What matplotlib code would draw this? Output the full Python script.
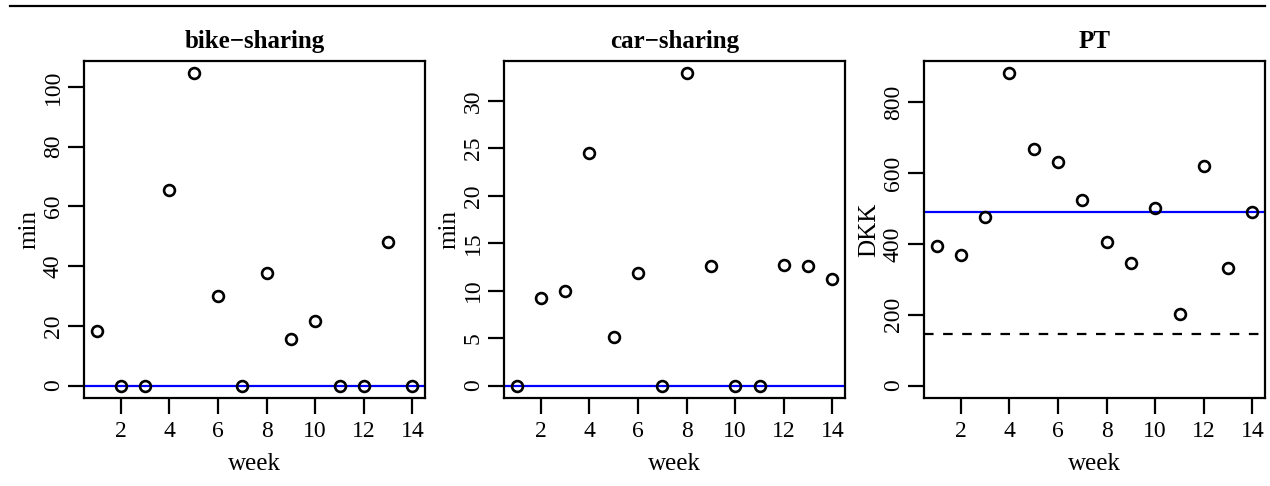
import matplotlib
matplotlib.use("Agg")
import matplotlib.pyplot as plt
import numpy as np

weeks = list(range(1, 15))
bike = [18.3, 0, 0, 65.4, 104.5, 30.0, 0, 37.8, 15.5, 21.7, 0, 0, 48.1, 0]
car = [0, 9.26, 10.0, 24.5, 5.13, 11.86, 0, 32.9, 12.6, 0, 0, 12.7, 12.6, 11.2]
pt = [395, 370, 477, 882, 668, 633, 525, 407, 346, 502, 203, 621, 333, 490]

titles = ["bike\u2212sharing", "car\u2212sharing", "PT"]
ylabels = ["min", "min", "DKK"]
series = [bike, car, pt]
yticks = [[0, 20, 40, 60, 80, 100], [0, 5, 10, 15, 20, 25, 30], [0, 200, 400, 600, 800]]
xticks = [2, 4, 6, 8, 10, 12, 14]
blue_lines = [0, 0, 490]
dashed_lines = [None, None, 147]

plt.rcParams['font.family'] = ['Liberation Serif', 'DejaVu Serif']

fig = plt.figure(figsize=(12.7, 4.86), dpi=100)
W, H = 1270, 486

lefts = [84, 504, 924]
for i in range(3):
    ax = fig.add_axes([lefts[i] / W, (H - 398) / H, 341 / W, 337 / H])
    y = np.array(series[i], dtype=float)
    x = np.array(weeks, dtype=float)
    xr = x.max() - x.min()
    ax.set_xlim(x.min() - 0.04 * xr, x.max() + 0.04 * xr)
    ylo = min(0.0, y.min())
    yr = y.max() - ylo
    ax.set_ylim(ylo - 0.04 * yr, y.max() + 0.04 * yr)
    ax.axhline(blue_lines[i], color='#0000ff', lw=1.6, zorder=2)
    if dashed_lines[i] is not None:
        ax.axhline(dashed_lines[i], color='black', lw=1.6, ls=(0, (4.3, 4.3)), zorder=2)
    ax.plot(x, y, 'o', mfc='none', mec='black', ms=7.8, mew=1.9, zorder=3)
    ax.set_xticks(xticks)
    ax.set_yticks(yticks[i])
    ax.tick_params(axis='both', direction='out', length=11.5, width=1.6,
                   labelsize=17, colors='black')
    ax.tick_params(axis='x', pad=5)
    ax.tick_params(axis='y', pad=3)
    for lbl in ax.get_yticklabels():
        lbl.set_rotation(90)
        lbl.set_va('center')
    for s in ax.spines.values():
        s.set_linewidth(1.6)
    ax.set_title(titles[i], fontsize=18, fontweight='bold', pad=9.5)
    ax.set_xlabel("week", fontsize=18, labelpad=8)
    ax.set_ylabel(ylabels[i], fontsize=18, labelpad=2)

# top rule
fig.add_artist(plt.Line2D([10 / W, 1265 / W], [(H - 6) / H, (H - 6) / H],
                          color='black', lw=1.6, transform=fig.transFigure))

fig.savefig("out.png", dpi=100)
